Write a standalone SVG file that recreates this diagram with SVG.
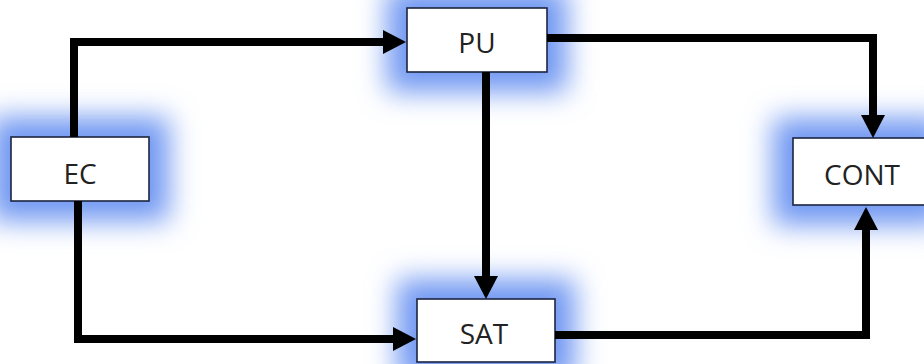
<svg xmlns="http://www.w3.org/2000/svg" width="924" height="364" viewBox="0 0 924 364">
  <defs>
    <filter id="glow" x="-60%" y="-100%" width="220%" height="300%">
      <feGaussianBlur stdDeviation="14"/>
    </filter>
    <marker id="head" markerUnits="userSpaceOnUse" markerWidth="24" markerHeight="24" refX="0" refY="12" orient="auto">
      <path d="M0,0 L23,12 L0,24 Z" fill="#000"/>
    </marker>
    <style>
      .halo { fill: #6f97f2; filter: url(#glow); }
      .box { fill: #ffffff; stroke: #1c2540; stroke-width: 1.6; }
      .label { font-family: "Open Sans", "Liberation Sans", sans-serif; font-size: 28px; fill: #222; text-anchor: middle; }
      .wire { fill: none; stroke: #000; stroke-width: 8; stroke-linejoin: miter; stroke-linecap: butt; marker-end: url(#head); }
    </style>
  </defs>
  <rect width="924" height="364" fill="#ffffff"/>

  <g id="EC">
    <rect class="halo" x="-9" y="117" width="178" height="104"/>
    <rect class="box" x="11" y="137" width="138" height="64"/>
    <text class="label" x="80" y="184">EC</text>
  </g>

  <g id="PU">
    <rect class="halo" x="387" y="-12" width="180" height="104"/>
    <rect class="box" x="407" y="8" width="140" height="64"/>
    <text class="label" x="477" y="53">PU</text>
  </g>

  <g id="SAT">
    <rect class="halo" x="397" y="279" width="178" height="103"/>
    <rect class="box" x="417" y="299" width="138" height="63"/>
    <text class="label" x="484" y="344">SAT</text>
  </g>

  <g id="CONT">
    <rect class="halo" x="773" y="118" width="172" height="107"/>
    <rect class="box" x="793" y="138" width="132" height="67"/>
    <text class="label" x="862" y="185">CONT</text>
  </g>

  <g id="connectors">
    <path class="wire" d="M74,137 V42 H383"/>
    <path class="wire" d="M547,38 H873 V115"/>
    <path class="wire" d="M486,72 V276"/>
    <path class="wire" d="M78,201 V339 H393"/>
    <path class="wire" d="M555,335 H866 V230"/>
  </g>
</svg>
